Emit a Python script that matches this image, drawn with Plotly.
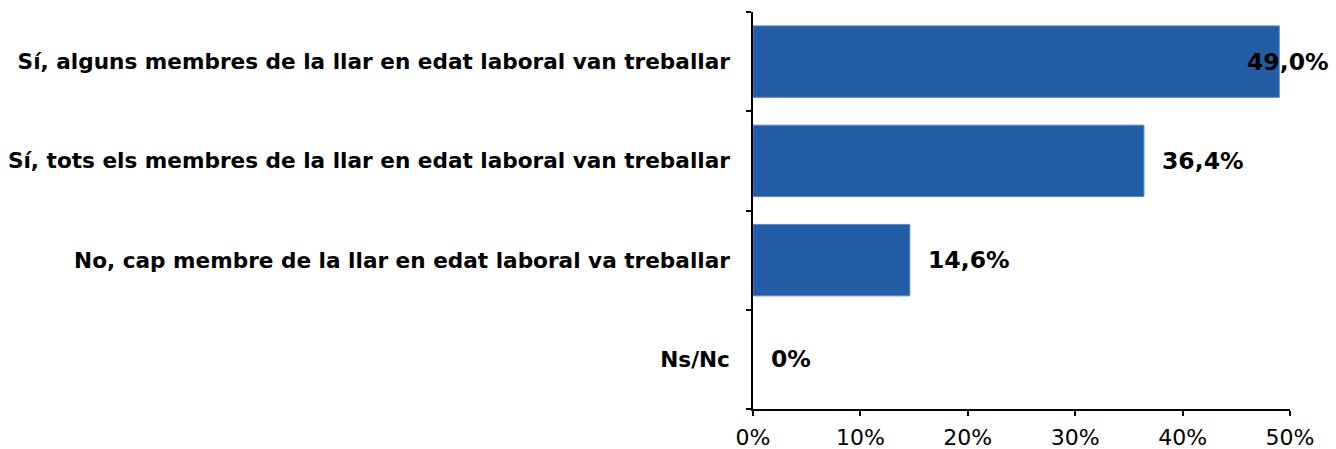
import plotly.graph_objects as go

categories = [
    "Sí, alguns membres de la llar en edat laboral van treballar",
    "Sí, tots els membres de la llar en edat laboral van treballar",
    "No, cap membre de la llar en edat laboral va treballar",
    "Ns/Nc",
]
values = [49.0, 36.4, 14.6, 0.0]
value_labels = ["49,0%", "36,4%", "14,6%", "0%"]
x_ticks = [0, 10, 20, 30, 40, 50]
x_tick_labels = ["0%", "10%", "20%", "30%", "40%", "50%"]

BAR = "#235da6"
FONT = "DejaVu Sans"

fig = go.Figure()
fig.add_trace(go.Bar(
    y=categories, x=values, orientation="h",
    marker=dict(color=BAR, line=dict(color="#5b86c4",
                                     width=[1 if v > 0 else 0 for v in values])),
    width=0.72, hoverinfo="skip",
))

for cat, v, lab in zip(categories, values, value_labels):
    if v > 45:
        fig.add_annotation(x=v, y=cat, text=lab, showarrow=False, xanchor="center",
                           xshift=9, font=dict(family=FONT, size=23.5, color="black", weight="bold"))
    else:
        fig.add_annotation(x=v, y=cat, text=lab, showarrow=False, xanchor="left",
                           xshift=16, font=dict(family=FONT, size=23.5, color="black", weight="bold"))

fig.update_layout(
    width=1336, height=449,
    margin=dict(l=753, r=46, t=12, b=40),
    paper_bgcolor="white", plot_bgcolor="white",
    showlegend=False,
    xaxis=dict(
        range=[0, 50], tickvals=x_ticks, ticktext=x_tick_labels, automargin=False,
        showgrid=False, zeroline=False, showline=True, linecolor="black", linewidth=1.5,
        ticks="outside", ticklen=5, tickcolor="black", tickwidth=1.5,
        ticklabelstandoff=3,
        tickfont=dict(family=FONT, size=22, color="black"),
    ),
    yaxis=dict(
        type="category", categoryorder="array", categoryarray=categories[::-1],
        autorange=False, range=[-0.5, 3.5], automargin=False,
        showgrid=False, zeroline=False, showline=True, linecolor="black", linewidth=1.5,
        ticks="outside", ticklen=5, tickcolor="black", tickwidth=1.5, tickson="boundaries",
        ticklabelstandoff=17,
        tickfont=dict(family=FONT, size=21.6, color="black", weight="bold"),
    ),
)

fig.write_html("out.html", config={"displayModeBar": False},
               post_script="document.body.style.margin='0';")
